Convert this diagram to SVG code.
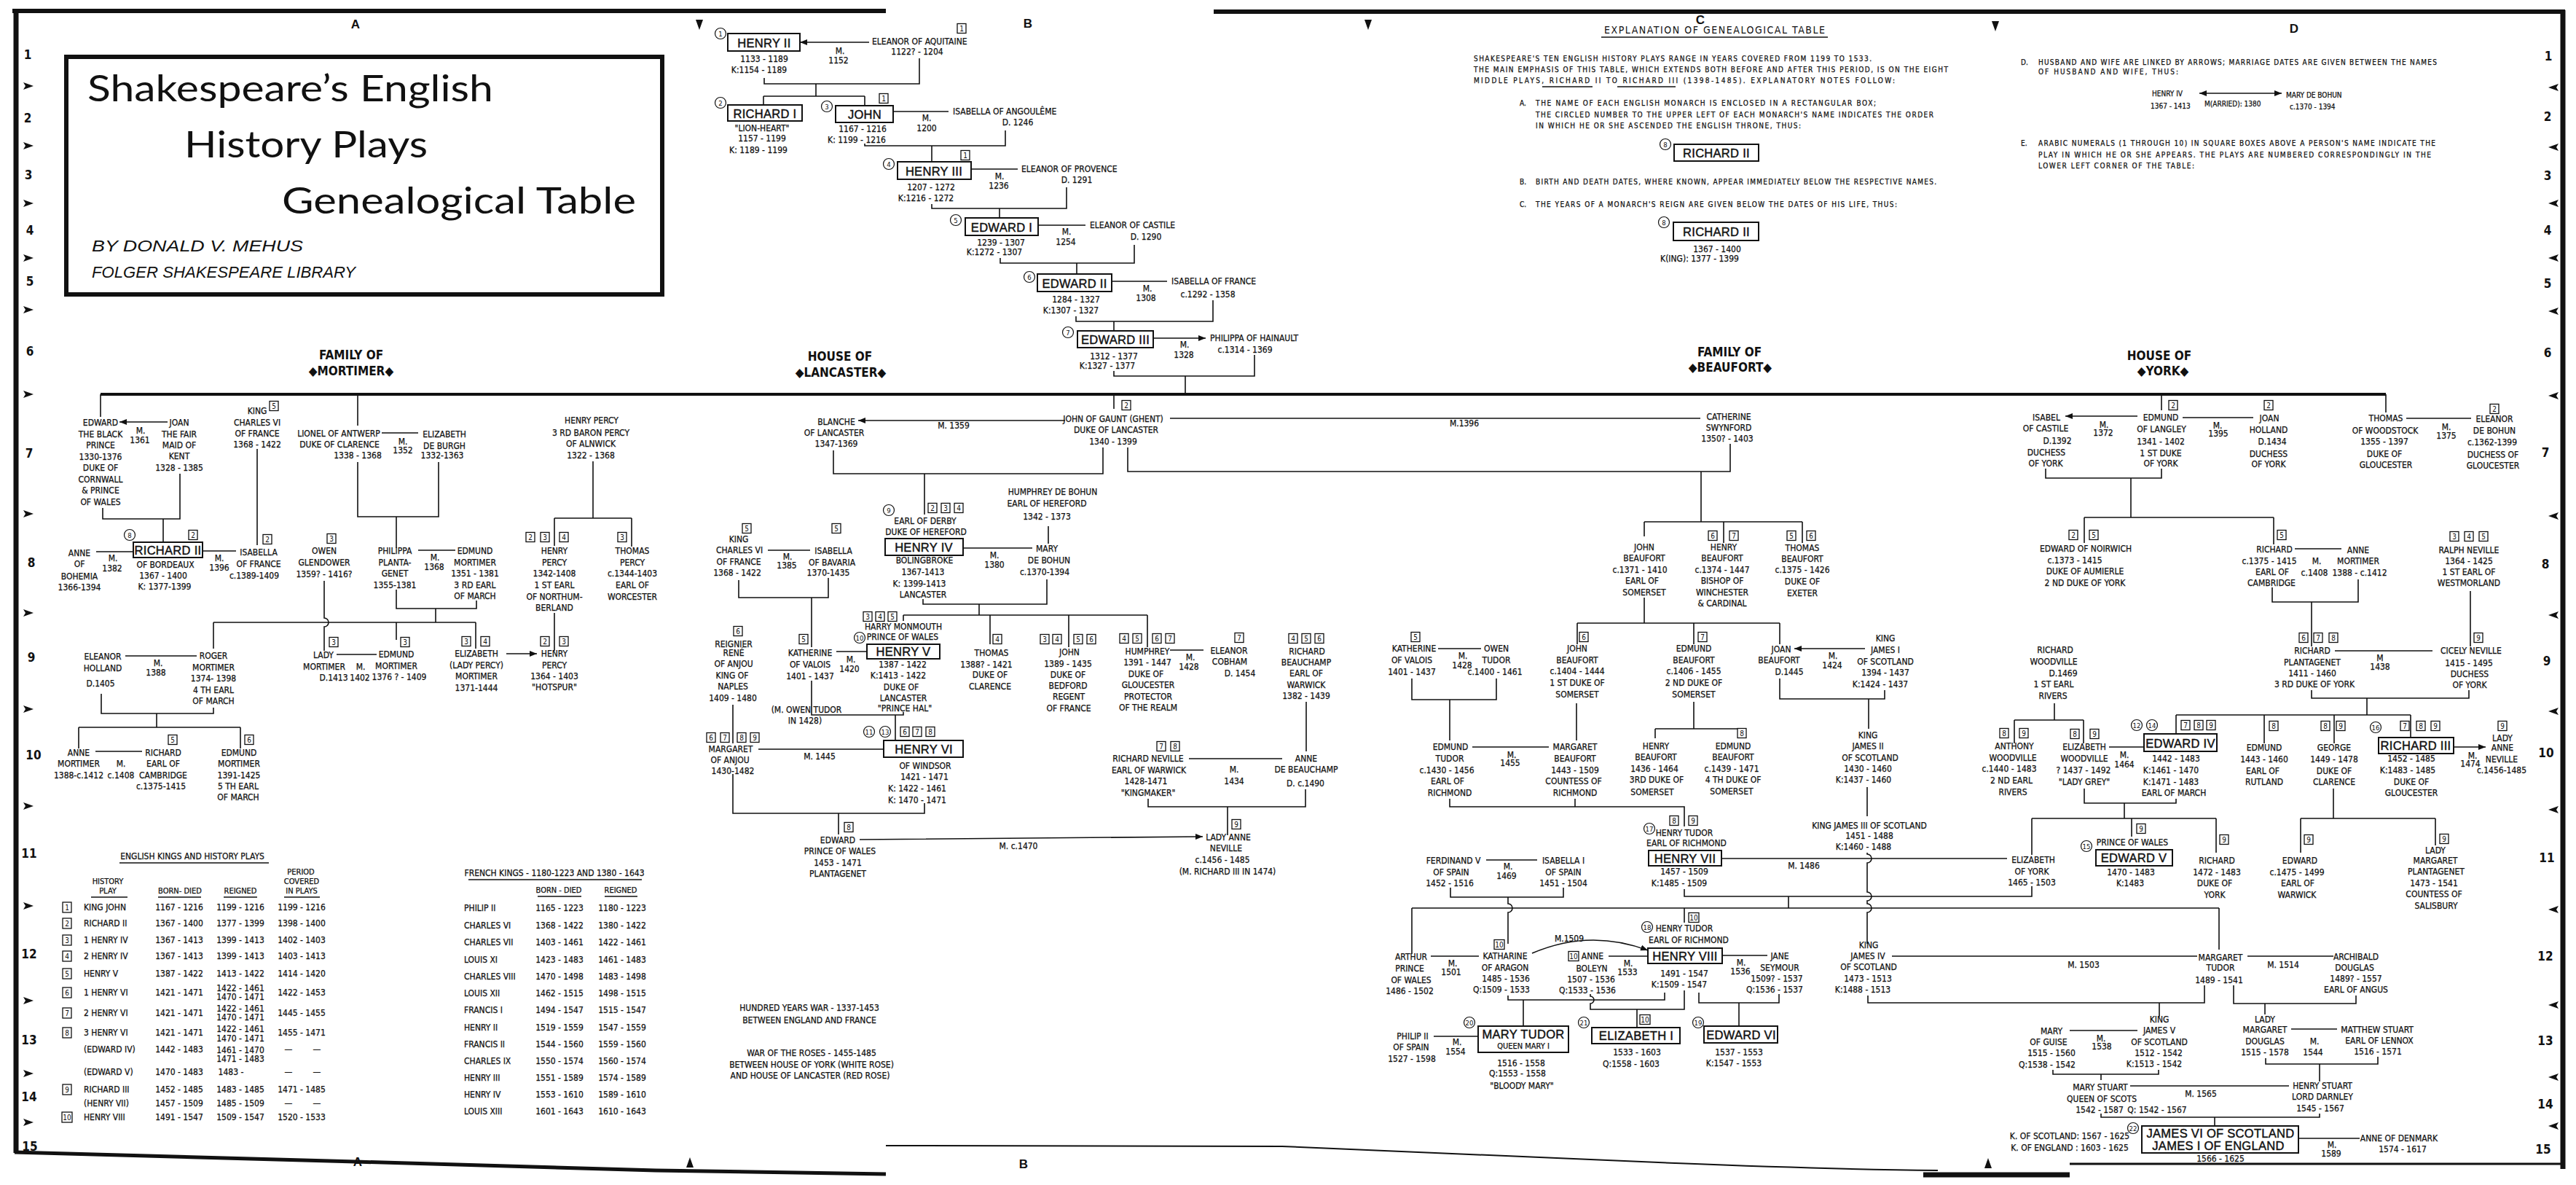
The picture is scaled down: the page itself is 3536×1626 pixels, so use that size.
<svg xmlns="http://www.w3.org/2000/svg" width="3536" height="1626" viewBox="0 0 3536 1626">
<defs>
<marker id="ah" viewBox="0 0 10 8" refX="10" refY="4" markerWidth="10" markerHeight="8" markerUnits="userSpaceOnUse" orient="auto-start-reverse"><path d="M0,0 L10,4 L0,8 z" fill="#111"/></marker>
</defs>
<style>
text{font-family:"Liberation Sans Narrow","DejaVu Sans Condensed","Liberation Sans",sans-serif;fill:#111}
.t{font-size:12px;text-anchor:middle;stroke:#111;stroke-width:0.25px}
.s{font-size:12px;text-anchor:start;stroke:#111;stroke-width:0.25px}
.sm{font-size:11px;text-anchor:middle;stroke:#111;stroke-width:0.25px}
.mt{font-family:"Liberation Sans",sans-serif;font-size:16.5px;text-anchor:middle;letter-spacing:0.3px;stroke:#111;stroke-width:0.45px}
.mb{fill:#fff;stroke:#111;stroke-width:2}
.pr{fill:#fff;stroke:#111;stroke-width:1.3}
.pt{font-size:10px;text-anchor:middle}
.cr{fill:#fff;stroke:#111;stroke-width:1.2}
.ct{font-size:9.5px;text-anchor:middle}
.l{fill:none;stroke:#111;stroke-width:1.6}
.mm{fill:none;stroke:#111;stroke-width:1.6;marker-start:url(#ah);marker-end:url(#ah)}
.main{fill:none;stroke:#111;stroke-width:4}
.hd{font-size:17px;font-weight:bold;text-anchor:middle}
.ex{font-size:10px;text-anchor:start;stroke:#111;stroke-width:0.25px}
.grid{font-family:"Liberation Sans",sans-serif;font-weight:bold;font-size:17px;text-anchor:middle}
.tt{font-family:Lato,"Open Sans",sans-serif;font-size:50px}
.by{font-family:"Liberation Sans Narrow","Liberation Sans",sans-serif;font-style:italic;font-size:22px}
.bd{fill:none;stroke:#111}
</style>
<rect width="3536" height="1626" fill="#fff"/>

<g id="frame">
<path class="bd" stroke-width="6" d="M17,15 H1216 M1666,16 H3521"/>
<path class="bd" stroke-width="7" d="M22,14 V1582 M3518,14 V1604"/>
<path class="bd" stroke-width="5" d="M20,1581 L488,1594 L900,1606 L1216,1611"/>
<path class="bd" stroke-width="2" d="M1216,1572 L1760,1573 C1900,1578 2100,1588 2300,1596 C2450,1602 2560,1605 2660,1606"/>
<path class="bd" stroke-width="7" d="M2640,1612 H2841"/>
<path class="bd" stroke-width="3" d="M2841,1597 H3518"/>
<text class="grid" x="488" y="39">A</text>
<text class="grid" x="1411" y="38">B</text>
<text class="grid" x="2334" y="33">C</text>
<text class="grid" x="3149" y="45">D</text>
<text class="grid" x="491" y="1600">A</text>
<text class="grid" x="1405" y="1603">B</text>
<polygon points="955,27 965,27 960,41" fill="#111"/>
<polygon points="1873,27 1883,27 1878,41" fill="#111"/>
<polygon points="2734,29 2744,29 2739,43" fill="#111"/>
<polygon points="942,1602 952,1602 947,1588" fill="#111"/>
<polygon points="2724,1603 2734,1603 2729,1589" fill="#111"/>
<g fill="#111">
<polygon points="32,113 46,118 32,123 35,118"/><polygon points="32,195 46,200 32,205 35,200"/><polygon points="32,274 46,279 32,284 35,279"/><polygon points="32,349 46,354 32,359 35,354"/><polygon points="32,420 46,425 32,430 35,425"/><polygon points="32,536 46,541 32,546 35,541"/><polygon points="32,700 46,705 32,710 35,705"/><polygon points="32,836 46,841 32,846 35,841"/><polygon points="32,968 46,973 32,978 35,973"/><polygon points="32,1101 46,1106 32,1111 35,1106"/><polygon points="32,1238 46,1243 32,1248 35,1243"/><polygon points="32,1368 46,1373 32,1378 35,1373"/><polygon points="32,1468 46,1473 32,1478 35,1473"/><polygon points="32,1535 46,1540 32,1545 35,1540"/>
<polygon points="3512,115 3498,120 3512,125 3509,120"/><polygon points="3512,197 3498,202 3512,207 3509,202"/><polygon points="3512,274 3498,279 3512,284 3509,279"/><polygon points="3512,349 3498,354 3512,359 3509,354"/><polygon points="3512,422 3498,427 3512,432 3509,427"/><polygon points="3512,538 3498,543 3512,548 3509,543"/><polygon points="3512,703 3498,708 3512,713 3509,708"/><polygon points="3512,839 3498,844 3512,849 3509,844"/><polygon points="3512,971 3498,976 3512,981 3509,976"/><polygon points="3512,1106 3498,1111 3512,1116 3509,1111"/><polygon points="3512,1243 3498,1248 3512,1253 3509,1248"/><polygon points="3512,1374 3498,1379 3512,1384 3509,1379"/><polygon points="3512,1473 3498,1478 3512,1483 3509,1478"/><polygon points="3512,1540 3498,1545 3512,1550 3509,1545"/>
</g>
<g class="grid">
<text x="38" y="81">1</text><text x="38" y="168">2</text><text x="39" y="246">3</text><text x="41" y="322">4</text><text x="41" y="392">5</text><text x="41" y="488">6</text><text x="40" y="628">7</text><text x="43" y="778">8</text><text x="43" y="908">9</text><text x="46" y="1042">10</text><text x="40" y="1177">11</text><text x="40" y="1315">12</text><text x="40" y="1433">13</text><text x="40" y="1511">14</text><text x="41" y="1579">15</text>
<text x="3498" y="83">1</text><text x="3497" y="166">2</text><text x="3497" y="247">3</text><text x="3497" y="322">4</text><text x="3497" y="395">5</text><text x="3497" y="490">6</text><text x="3494" y="627">7</text><text x="3494" y="780">8</text><text x="3496" y="913">9</text><text x="3495" y="1039">10</text><text x="3496" y="1183">11</text><text x="3494" y="1318">12</text><text x="3494" y="1434">13</text><text x="3494" y="1521">14</text><text x="3491" y="1583">15</text>
</g>
</g>

<g id="title">
<rect x="91" y="78" width="818" height="326" fill="none" stroke="#111" stroke-width="6"/>
<text class="tt" x="120" y="139" textLength="557" lengthAdjust="spacingAndGlyphs">Shakespeare’s English</text>
<text class="tt" x="253" y="216" textLength="334" lengthAdjust="spacingAndGlyphs">History Plays</text>
<text class="tt" x="387" y="293" textLength="486" lengthAdjust="spacingAndGlyphs">Genealogical Table</text>
<text class="by" x="126" y="345" textLength="290" lengthAdjust="spacingAndGlyphs">BY DONALD V. MEHUS</text>
<text class="by" x="126" y="381" textLength="362" lengthAdjust="spacingAndGlyphs">FOLGER SHAKESPEARE LIBRARY</text>
</g>

<g id="headings">
<text class="hd" x="482" y="493">FAMILY OF</text><text class="hd" x="482" y="515">◆MORTIMER◆</text>
<text class="hd" x="1153" y="495">HOUSE OF</text><text class="hd" x="1154" y="517">◆LANCASTER◆</text>
<text class="hd" x="2374" y="489">FAMILY OF</text><text class="hd" x="2375" y="510">◆BEAUFORT◆</text>
<text class="hd" x="2964" y="494">HOUSE OF</text><text class="hd" x="2969" y="515">◆YORK◆</text>
</g>

<g id="explanation">
<text x="2202" y="46" font-size="14" textLength="303" lengthAdjust="spacing">EXPLANATION OF GENEALOGICAL TABLE</text>
<path class="l" stroke-width="2" d="M2198,51H2509"/>
<text class="ex" x="2023" y="84" textLength="546" lengthAdjust="spacing">SHAKESPEARE'S TEN ENGLISH HISTORY PLAYS RANGE IN YEARS COVERED FROM 1199 TO 1533.</text>
<text class="ex" x="2023" y="99" textLength="651" lengthAdjust="spacing">THE MAIN EMPHASIS OF THIS TABLE, WHICH EXTENDS BOTH BEFORE AND AFTER THIS PERIOD, IS ON THE EIGHT</text>
<text class="ex" x="2023" y="114" textLength="578" lengthAdjust="spacing">MIDDLE PLAYS, RICHARD II TO RICHARD III (1398-1485). EXPLANATORY NOTES FOLLOW:</text>
<path class="l" stroke-width="1.2" d="M2117,119H2186 M2220,119H2300"/>
<text class="ex" x="2086" y="145">A.</text>
<text class="ex" x="2108" y="145" textLength="467" lengthAdjust="spacing">THE NAME OF EACH ENGLISH MONARCH IS ENCLOSED IN A RECTANGULAR BOX;</text>
<text class="ex" x="2108" y="161" textLength="546" lengthAdjust="spacing">THE CIRCLED NUMBER TO THE UPPER LEFT OF EACH MONARCH'S NAME INDICATES THE ORDER</text>
<text class="ex" x="2108" y="176" textLength="364" lengthAdjust="spacing">IN WHICH HE OR SHE ASCENDED THE ENGLISH THRONE, THUS:</text>
<circle class="cr" cx="2286" cy="198" r="7.5"/><text class="ct" x="2286" y="201.5">8</text>
<rect class="mb" x="2298" y="198" width="116" height="23"/><text class="mt" x="2356" y="216">RICHARD II</text>
<text class="ex" x="2086" y="253">B.</text>
<text class="ex" x="2108" y="253" textLength="550" lengthAdjust="spacing">BIRTH AND DEATH DATES, WHERE KNOWN, APPEAR IMMEDIATELY BELOW THE RESPECTIVE NAMES.</text>
<text class="ex" x="2086" y="284">C.</text>
<text class="ex" x="2108" y="284" textLength="496" lengthAdjust="spacing">THE YEARS OF A MONARCH'S REIGN ARE GIVEN BELOW THE DATES OF HIS LIFE, THUS:</text>
<circle class="cr" cx="2284" cy="305" r="7.5"/><text class="ct" x="2284" y="308.5">8</text>
<rect class="mb" x="2297" y="305" width="117" height="25"/><text class="mt" x="2356" y="324">RICHARD II</text>
<text class="t" x="2357" y="346">1367 - 1400</text>
<text class="t" x="2333" y="359">K(ING): 1377 - 1399</text>
<text class="ex" x="2774" y="89">D.</text>
<text class="ex" x="2798" y="89" textLength="547" lengthAdjust="spacing">HUSBAND AND WIFE ARE LINKED BY ARROWS; MARRIAGE DATES ARE GIVEN BETWEEN THE NAMES</text>
<text class="ex" x="2798" y="102" textLength="192" lengthAdjust="spacing">OF HUSBAND AND WIFE, THUS:</text>
<text class="ex" x="2954" y="132">HENRY IV</text>
<text class="ex" x="2952" y="149">1367 - 1413</text>
<path class="mm" d="M3019,128H3132"/>
<text class="ex" x="3026" y="146">M(ARRIED): 1380</text>
<text class="ex" x="3138" y="134">MARY DE BOHUN</text>
<text class="ex" x="3143" y="150">c.1370 - 1394</text>
<text class="ex" x="2774" y="200">E.</text>
<text class="ex" x="2798" y="200" textLength="545" lengthAdjust="spacing">ARABIC NUMERALS (1 THROUGH 10) IN SQUARE BOXES ABOVE A PERSON'S NAME INDICATE THE</text>
<text class="ex" x="2798" y="216" textLength="539" lengthAdjust="spacing">PLAY IN WHICH HE OR SHE APPEARS. THE PLAYS ARE NUMBERED CORRESPONDINGLY IN THE</text>
<text class="ex" x="2798" y="231" textLength="214" lengthAdjust="spacing">LOWER LEFT CORNER OF THE TABLE:</text>
</g>

<g id="connectors">
<path class="main" d="M138,541H3275"/>
<path class="l" d="M1049,107V115H1262V80 M1120,115V132 M1048,132H1187 M1048,132V144 M1187,132V145 M1187,197V200H1380V179 M1279,200V222 M1279,280V286H1464V257 M1372,286V299 M1373,354V361H1557V336 M1478,361V376 M1477,434V441H1665V412 M1529,441V454 M1529,509V516H1722V487 M1627,516V541"/>
<path class="l" d="M138,541V572 M491,541V584 M1529,541V561 M2967,541V563 M3275,541V566"/>
<path class="l" d="M141,697V712H247V650 M224,712V744 M353,616V748 M491,634V709H602V634 M544,709V752 M544,809V835H654V824 M598,835V854 M293,854H653 M293,854V890 M544,854V878 M653,854V890 M139,952V979H293V971 M215,979V998 M108,998H330 M108,998V1027 M330,998V1027 M814,633V711 M761,711H867 M761,711V749 M867,711V750 M761,841V893 M445,797V848a6,6 0 0 1 0,12V893"/>
<path class="l" d="M1144,618V650H1514V614 M1269,650V706 M1548,614V647H2375V609 M2335,647V716 M2257,716H2474 M2257,716V736 M2366,716V745 M2474,716V745 M1439,722V746 M1267,822V829H1437V795 M1344,829V844 M1240,844H1575 M1240,844V852 M1359,844V884 M1467,844V888 M1575,844V888 M1014,796V820H1137V793 M1114,820V888 M1006,967V1020 M1114,934V981H1240V977 M1229,981V1016 M1793,963V1031 M1576,1096V1107H1792V1083 M1685,1107V1146 M1006,1062V1116H1269V1102 M1151,1116V1145"/>
<path class="l" d="M2257,820V855 M2165,855H2443 M2165,855V884 M2325,855V884 M2443,855V884 M2443,931V959H2587V947 M2565,959V1000 M2563,1080V1120 M1938,931V960H2054V931 M1990,960V1016 M2164,965V1016 M2325,963V1000 M2272,1000H2386 M2272,1000V1013 M2386,1000V1013 M1990,1096V1107H2312V1134 M2162,1096V1107 M2563,1170V1172a6,6 0 0 1 0,12V1224a6,6 0 0 1 0,12V1240a6,6 0 0 1 0,12V1295 M2312,1220V1230H2789V1216 M2455,1230V1246 M1938,1246H3046 M1938,1246V1309 M2312,1246V1266 M3046,1246V1303 M1991,1218V1231H2146V1218 M2070,1231V1240a6,6 0 0 1 0,12V1295 M2070,1366V1372H2285V1362 M2091,1372V1408 M2183,1364V1367a5,5 0 0 1 0,10V1385H2312V1359 M2247,1385V1410 M2332,1362V1376H2442V1364 M2387,1376V1408 M2564,1366V1376H3026V1352 M2964,1376V1395 M3066,1352V1377H3234V1366 M3109,1377V1392 M2818,1468V1474H2963V1468 M2884,1474V1482 M3110,1452V1460H3264V1450 M3184,1460V1484 M2884,1528V1533H3184V1528 M3040,1533V1545"/>
<path class="l" d="M2808,643V656H2967V643 M2925,656V710 M2861,710H3121 M2861,710V745 M3121,710V747 M3119,806V826H3237V795 M3173,826V887 M3391,811V887 M3173,947V958H3389V947 M3249,958V981 M2987,981H3309 M2987,981V1007 M3108,981V1020 M3204,981V1020 M3309,981V1012 M2820,965V988 M2765,988H2860 M2765,988V1020 M2860,988V1020 M2861,1082V1102H2987V1096 M2916,1102V1123 M2789,1123H3042 M2789,1123V1173 M2926,1123V1148 M3042,1123V1170 M3203,1082V1123 M3158,1123H3343 M3158,1123V1170 M3343,1123V1160"/>
<path class="mm" d="M1098,58H1193 M1226,153H1302 M1333,232H1397 M1425,309H1490 M1526,386H1602 M1583,464H1655"/>
<path class="mm" d="M164,579H230 M132,757H183 M278,756H324 M524,594H574 M574,755H625 M172,900H270 M131,1031H195 M462,898H517 M695,897H737"/>
<path class="mm" d="M1178,577H1462 M1606,574H2334 M1322,752H1417 M1148,894H1190 M1054,755H1112 M1041,1028H1213 M1606,892H1652 M1632,1041H1760 M1180,1152L1651,1148"/>
<path class="mm" d="M2463,890H2560 M1974,890H2033 M2021,1025H2126 M2363,1178H2755 M2040,1180H2110 M1964,1312H2030 M2208,1312H2262 M2364,1311H2426 M2597,1312H3016 M3085,1312H3203 M1968,1422H2029 M2841,1414H2934 M3145,1412H3208 M2924,1490H3142 M3155,1562H3239 M2103,1308Q2182,1274 2262,1304"/>
<path class="mm" d="M2835,571H2934 M2996,573H3093 M3303,574H3392 M3150,753H3214 M3205,893H3339 M2895,1025H2943 M3368,1025H3412"/>
<g id="marriage-labels" class="t">
<text x="1153" y="74">M.</text><text x="1151" y="87">1152</text>
<text x="1272" y="166">M.</text><text x="1272" y="180">1200</text>
<text x="1372" y="246">M.</text><text x="1371" y="259">1236</text>
<text x="1464" y="322">M.</text><text x="1463" y="336">1254</text>
<text x="1575" y="400">M.</text><text x="1573" y="413">1308</text>
<text x="1626" y="477">M.</text><text x="1625" y="491">1328</text>
<text x="193" y="595">M.</text><text x="192" y="608">1361</text>
<text x="155" y="770">M.</text><text x="154" y="784">1382</text>
<text x="301" y="770">M.</text><text x="301" y="783">1396</text>
<text x="553" y="610">M.</text><text x="553" y="622">1352</text>
<text x="597" y="769">M.</text><text x="596" y="782">1368</text>
<text x="217" y="914">M.</text><text x="214" y="927">1388</text>
<text x="166" y="1052">M.</text><text x="166" y="1068">c.1408</text>
<text x="495" y="919">M.</text><text x="494" y="934">1402</text>
<text x="1309" y="588">M. 1359</text>
<text x="2010" y="585">M.1396</text>
<text x="1365" y="766">M.</text><text x="1365" y="779">1380</text>
<text x="1081" y="768">M.</text><text x="1080" y="780">1385</text>
<text x="1168" y="909">M.</text><text x="1166" y="922">1420</text>
<text x="1125" y="1042">M. 1445</text>
<text x="1634" y="906">M.</text><text x="1632" y="919">1428</text>
<text x="1694" y="1060">M.</text><text x="1694" y="1076">1434</text>
<text x="1398" y="1165">M. c.1470</text>
<text x="2516" y="904">M.</text><text x="2515" y="917">1424</text>
<text x="2008" y="904">M.</text><text x="2007" y="917">1428</text>
<text x="2075" y="1040">M.</text><text x="2073" y="1051">1455</text>
<text x="2476" y="1192">M. 1486</text>
<text x="2070" y="1193">M.</text><text x="2068" y="1206">1469</text>
<text x="1994" y="1326">M.</text><text x="1992" y="1338">1501</text>
<text x="2154" y="1292">M.1509</text>
<text x="2235" y="1326">M.</text><text x="2234" y="1338">1533</text>
<text x="2390" y="1325">M.</text><text x="2389" y="1337">1536</text>
<text x="2860" y="1328">M. 1503</text>
<text x="3134" y="1328">M. 1514</text>
<text x="2000" y="1434">M.</text><text x="1998" y="1447">1554</text>
<text x="2884" y="1429">M.</text><text x="2885" y="1440">1538</text>
<text x="3177" y="1433">M.</text><text x="3175" y="1448">1544</text>
<text x="3021" y="1505">M. 1565</text>
<text x="3201" y="1575">M.</text><text x="3200" y="1587">1589</text>
<text x="2888" y="587">M.</text><text x="2887" y="598">1372</text>
<text x="3044" y="588">M.</text><text x="3045" y="599">1395</text>
<text x="3358" y="590">M.</text><text x="3358" y="602">1375</text>
<text x="3180" y="774">M.</text><text x="3177" y="790">c.1408</text>
<text x="3267" y="907">M</text><text x="3267" y="919">1438</text>
<text x="2916" y="1040">M.</text><text x="2916" y="1053">1464</text>
<text x="3394" y="1041">M.</text><text x="3391" y="1052">1474</text>
</g>
</g>

<g id="henry2"><circle class="cr" cx="989" cy="46" r="7.5"/><text class="ct" x="989" y="49.5">1</text><rect class="mb" x="999" y="46" width="99" height="24"/><text class="mt" x="1049" y="64.5">HENRY II</text><text class="t"><tspan x="1049" y="85">1133 - 1189</tspan><tspan x="1042" y="100">K:1154 - 1189</tspan></text></g>
<g id="eleanor_aquitaine"><rect class="pr" x="1314" y="32.5" width="12" height="13"/><text class="pt" x="1320" y="42.5">1</text><text class="s" x="1197" y="61">ELEANOR OF AQUITAINE</text><text class="t" x="1259" y="75">1122? - 1204</text></g>
<g id="richard1"><circle class="cr" cx="989" cy="141" r="7.5"/><text class="ct" x="989" y="144.5">2</text><rect class="mb" x="999" y="144" width="102" height="22"/><text class="mt" x="1050" y="161.5">RICHARD I</text><text class="t"><tspan x="1046" y="180">"LION-HEART"</tspan><tspan x="1046" y="194">1157 - 1199</tspan><tspan x="1041" y="210">K: 1189 - 1199</tspan></text></g>
<g id="john"><circle class="cr" cx="1135" cy="146" r="7.5"/><text class="ct" x="1135" y="149.5">3</text><rect class="mb" x="1147" y="145" width="79" height="23"/><text class="mt" x="1187" y="163">JOHN</text><rect class="pr" x="1207" y="128.5" width="12" height="13"/><text class="pt" x="1213" y="138.5">1</text><text class="t"><tspan x="1184" y="181">1167 - 1216</tspan><tspan x="1176" y="196">K: 1199 - 1216</tspan></text></g>
<g id="isabella_angouleme"><text class="s" x="1308" y="157">ISABELLA OF ANGOULÊME</text><text class="t" x="1397" y="172">D. 1246</text></g>
<g id="henry3"><circle class="cr" cx="1220" cy="225" r="7.5"/><text class="ct" x="1220" y="228.5">4</text><rect class="mb" x="1232" y="222" width="101" height="24"/><text class="mt" x="1282" y="240.5">HENRY III</text><rect class="pr" x="1319" y="206.5" width="12" height="13"/><text class="pt" x="1325" y="216.5">1</text><text class="t"><tspan x="1278" y="261">1207 - 1272</tspan><tspan x="1271" y="276">K:1216 - 1272</tspan></text></g>
<g id="eleanor_provence"><text class="s" x="1402" y="236">ELEANOR OF PROVENCE</text><text class="t" x="1478" y="251">D. 1291</text></g>
<g id="edward1"><circle class="cr" cx="1312" cy="302" r="7.5"/><text class="ct" x="1312" y="305.5">5</text><rect class="mb" x="1325" y="299" width="100" height="24"/><text class="mt" x="1375" y="317.5">EDWARD I</text><text class="t"><tspan x="1374" y="337">1239 - 1307</tspan><tspan x="1365" y="350">K:1272 - 1307</tspan></text></g>
<g id="eleanor_castile"><text class="s" x="1496" y="313">ELEANOR OF CASTILE</text><text class="t" x="1573" y="329">D. 1290</text></g>
<g id="edward2"><circle class="cr" cx="1413" cy="380" r="7.5"/><text class="ct" x="1413" y="383.5">6</text><rect class="mb" x="1424" y="376" width="102" height="24"/><text class="mt" x="1475" y="394.5">EDWARD II</text><text class="t"><tspan x="1477" y="415">1284 - 1327</tspan><tspan x="1470" y="430">K:1307 - 1327</tspan></text></g>
<g id="isabella_france"><text class="s" x="1608" y="390">ISABELLA OF FRANCE</text><text class="t" x="1658" y="408">c.1292 - 1358</text></g>
<g id="edward3"><circle class="cr" cx="1466" cy="456" r="7.5"/><text class="ct" x="1466" y="459.5">7</text><rect class="mb" x="1479" y="454" width="104" height="23"/><text class="mt" x="1531" y="472">EDWARD III</text><text class="t"><tspan x="1529" y="493">1312 - 1377</tspan><tspan x="1520" y="506">K:1327 - 1377</tspan></text></g>
<g id="philippa_hainault"><text class="s" x="1661" y="468">PHILIPPA OF HAINAULT</text><text class="t" x="1709" y="484">c.1314 - 1369</text></g>

<g id="edward_black_prince"><text class="t"><tspan x="138" y="584">EDWARD</tspan><tspan x="138" y="600">THE BLACK</tspan><tspan x="138" y="615">PRINCE</tspan><tspan x="138" y="631">1330-1376</tspan><tspan x="138" y="646">DUKE OF</tspan><tspan x="138" y="662">CORNWALL</tspan><tspan x="138" y="677">&amp; PRINCE</tspan><tspan x="138" y="693">OF WALES</tspan></text></g>
<g id="joan_kent"><text class="t"><tspan x="246" y="584">JOAN</tspan><tspan x="246" y="600">THE FAIR</tspan><tspan x="246" y="615">MAID OF</tspan><tspan x="246" y="630">KENT</tspan><tspan x="246" y="646">1328 - 1385</tspan></text></g>
<g id="richard2"><circle class="cr" cx="178" cy="734" r="7.5"/><text class="ct" x="178" y="737.5">8</text><rect class="pr" x="259" y="727.5" width="12" height="13"/><text class="pt" x="265" y="737.5">2</text><rect class="mb" x="183" y="744" width="95" height="21"/><text class="mt" x="230.5" y="760.5">RICHARD II</text><text class="t"><tspan x="227" y="779">OF BORDEAUX</tspan><tspan x="224" y="794">1367 - 1400</tspan><tspan x="226" y="809">K: 1377-1399</tspan></text></g>
<g id="anne_bohemia"><text class="t"><tspan x="109" y="763">ANNE</tspan><tspan x="109" y="778">OF</tspan><tspan x="109" y="795">BOHEMIA</tspan><tspan x="109" y="810">1366-1394</tspan></text></g>
<g id="isabella_valois_m"><rect class="pr" x="361" y="733.5" width="12" height="13"/><text class="pt" x="367" y="743.5">2</text><text class="t"><tspan x="355" y="762">ISABELLA</tspan><tspan x="355" y="778">OF FRANCE</tspan><tspan x="349" y="794">c.1389-1409</tspan></text></g>
<g id="charles6_m"><rect class="pr" x="370" y="550.5" width="12" height="13"/><text class="pt" x="376" y="560.5">5</text><text class="t"><tspan x="353" y="568">KING</tspan><tspan x="353" y="584">CHARLES VI</tspan><tspan x="353" y="599">OF FRANCE</tspan><tspan x="353" y="614">1368 - 1422</tspan></text></g>
<g id="lionel"><text class="t"><tspan x="465" y="599">LIONEL OF ANTWERP</tspan><tspan x="466" y="614">DUKE OF CLARENCE</tspan><tspan x="491" y="629">1338 - 1368</tspan></text></g>
<g id="elizabeth_burgh"><text class="t"><tspan x="610" y="600">ELIZABETH</tspan><tspan x="610" y="616">DE BURGH</tspan><tspan x="607" y="629">1332-1363</tspan></text></g>
<g id="philippa_plantagenet"><text class="t"><tspan x="542" y="760">PHILIPPA</tspan><tspan x="542" y="776">PLANTA-</tspan><tspan x="542" y="791">GENET</tspan><tspan x="542" y="807">1355-1381</tspan></text></g>
<g id="edmund_mortimer_3"><text class="t"><tspan x="652" y="760">EDMUND</tspan><tspan x="652" y="776">MORTIMER</tspan><tspan x="652" y="791">1351 - 1381</tspan><tspan x="652" y="807">3 RD EARL</tspan><tspan x="652" y="822">OF MARCH</tspan></text></g>
<g id="owen_glendower"><rect class="pr" x="449" y="732.5" width="12" height="13"/><text class="pt" x="455" y="742.5">3</text><text class="t"><tspan x="445" y="760">OWEN</tspan><tspan x="445" y="776">GLENDOWER</tspan><tspan x="445" y="792">1359? - 1416?</tspan></text></g>
<g id="lady_mortimer"><rect class="pr" x="452" y="874.5" width="12" height="13"/><text class="pt" x="458" y="884.5">3</text><text class="t"><tspan x="444" y="903">LADY</tspan><tspan x="445" y="919">MORTIMER</tspan><tspan x="458" y="934">D.1413</tspan></text></g>
<g id="edmund_mortimer_1376"><rect class="pr" x="550" y="874.5" width="12" height="13"/><text class="pt" x="556" y="884.5">3</text><text class="t"><tspan x="544" y="902">EDMUND</tspan><tspan x="544" y="918">MORTIMER</tspan><tspan x="548" y="933">1376 ? - 1409</tspan></text></g>
<g id="elizabeth_mortimer"><rect class="pr" x="634" y="873.5" width="12" height="13"/><text class="pt" x="640" y="883.5">3</text><rect class="pr" x="660" y="873.5" width="12" height="13"/><text class="pt" x="666" y="883.5">4</text><text class="t"><tspan x="654" y="901">ELIZABETH</tspan><tspan x="654" y="917">(LADY PERCY)</tspan><tspan x="654" y="932">MORTIMER</tspan><tspan x="654" y="948">1371-1444</tspan></text></g>
<g id="hotspur"><rect class="pr" x="742" y="873.5" width="12" height="13"/><text class="pt" x="748" y="883.5">2</text><rect class="pr" x="768" y="873.5" width="12" height="13"/><text class="pt" x="774" y="883.5">3</text><text class="t"><tspan x="761" y="901">HENRY</tspan><tspan x="761" y="917">PERCY</tspan><tspan x="761" y="932">1364 - 1403</tspan><tspan x="761" y="947">"HOTSPUR"</tspan></text></g>
<g id="henry_percy_baron"><text class="t"><tspan x="812" y="581">HENRY PERCY</tspan><tspan x="811" y="598">3 RD BARON PERCY</tspan><tspan x="811" y="613">OF ALNWICK</tspan><tspan x="811" y="629">1322 - 1368</tspan></text></g>
<g id="henry_percy_earl"><rect class="pr" x="722" y="730.5" width="12" height="13"/><text class="pt" x="728" y="740.5">2</text><rect class="pr" x="742" y="730.5" width="12" height="13"/><text class="pt" x="748" y="740.5">3</text><rect class="pr" x="768" y="730.5" width="12" height="13"/><text class="pt" x="774" y="740.5">4</text><text class="t"><tspan x="761" y="760">HENRY</tspan><tspan x="761" y="776">PERCY</tspan><tspan x="761" y="791">1342-1408</tspan><tspan x="761" y="807">1 ST EARL</tspan><tspan x="761" y="823">OF NORTHUM-</tspan><tspan x="761" y="838">BERLAND</tspan></text></g>
<g id="thomas_percy"><rect class="pr" x="848" y="730.5" width="12" height="13"/><text class="pt" x="854" y="740.5">3</text><text class="t"><tspan x="868" y="760">THOMAS</tspan><tspan x="868" y="776">PERCY</tspan><tspan x="868" y="791">c.1344-1403</tspan><tspan x="868" y="807">EARL OF</tspan><tspan x="868" y="823">WORCESTER</tspan></text></g>
<g id="roger_mortimer"><text class="t"><tspan x="293" y="904">ROGER</tspan><tspan x="293" y="920">MORTIMER</tspan><tspan x="293" y="935">1374- 1398</tspan><tspan x="293" y="951">4 TH EARL</tspan><tspan x="293" y="966">OF MARCH</tspan></text></g>
<g id="eleanor_holland"><text class="t"><tspan x="141" y="905">ELEANOR</tspan><tspan x="141" y="921">HOLLAND</tspan><tspan x="138" y="942">D.1405</tspan></text></g>
<g id="anne_mortimer"><text class="t"><tspan x="108" y="1037">ANNE</tspan><tspan x="108" y="1052">MORTIMER</tspan><tspan x="108" y="1068">1388-c.1412</tspan></text></g>
<g id="richard_cambridge_m"><rect class="pr" x="231" y="1008.5" width="12" height="13"/><text class="pt" x="237" y="1018.5">5</text><text class="t"><tspan x="224" y="1037">RICHARD</tspan><tspan x="224" y="1052">EARL OF</tspan><tspan x="224" y="1068">CAMBRIDGE</tspan><tspan x="221" y="1083">c.1375-1415</tspan></text></g>
<g id="edmund_mortimer_5"><rect class="pr" x="336" y="1008.5" width="12" height="13"/><text class="pt" x="342" y="1018.5">6</text><text class="t"><tspan x="328" y="1037">EDMUND</tspan><tspan x="328" y="1052">MORTIMER</tspan><tspan x="328" y="1068">1391-1425</tspan><tspan x="327" y="1083">5 TH EARL</tspan><tspan x="327" y="1098">OF MARCH</tspan></text></g>

<g id="blanche"><text class="t"><tspan x="1148" y="583">BLANCHE</tspan><tspan x="1145" y="598">OF LANCASTER</tspan><tspan x="1148" y="613">1347-1369</tspan></text></g>
<g id="john_of_gaunt"><rect class="pr" x="1540" y="549.5" width="12" height="13"/><text class="pt" x="1546" y="559.5">2</text><text class="t"><tspan x="1528" y="579">JOHN OF GAUNT (GHENT)</tspan><tspan x="1532" y="594">DUKE OF LANCASTER</tspan><tspan x="1528" y="610">1340 - 1399</tspan></text></g>
<g id="catherine_swynford"><text class="t"><tspan x="2373" y="576">CATHERINE</tspan><tspan x="2373" y="591">SWYNFORD</tspan><tspan x="2371" y="606">1350? - 1403</tspan></text></g>
<g id="henry4"><circle class="cr" cx="1220" cy="700" r="7.5"/><text class="ct" x="1220" y="703.5">9</text><rect class="pr" x="1274" y="690.5" width="12" height="13"/><text class="pt" x="1280" y="700.5">2</text><rect class="pr" x="1292" y="690.5" width="12" height="13"/><text class="pt" x="1298" y="700.5">3</text><rect class="pr" x="1310" y="690.5" width="12" height="13"/><text class="pt" x="1316" y="700.5">4</text><text class="t"><tspan x="1270" y="719">EARL OF DERBY</tspan><tspan x="1271" y="734">DUKE OF HEREFORD</tspan></text><rect class="mb" x="1215" y="739" width="107" height="23"/><text class="mt" x="1268" y="756.5">HENRY IV</text><text class="t"><tspan x="1269" y="773">BOLINGBROKE</tspan><tspan x="1267" y="789">1367-1413</tspan><tspan x="1262" y="805">K: 1399-1413</tspan><tspan x="1267" y="820">LANCASTER</tspan></text></g>
<g id="humphrey_de_bohun"><text class="t"><tspan x="1445" y="679">HUMPHREY DE BOHUN</tspan><tspan x="1437" y="695">EARL OF HEREFORD</tspan><tspan x="1437" y="713">1342 - 1373</tspan></text></g>
<g id="mary_de_bohun"><text class="t"><tspan x="1437" y="757">MARY</tspan><tspan x="1440" y="773">DE BOHUN</tspan><tspan x="1434" y="789">c.1370-1394</tspan></text></g>
<g id="charles6_l"><rect class="pr" x="1019" y="718.5" width="12" height="13"/><text class="pt" x="1025" y="728.5">5</text><text class="t"><tspan x="1014" y="744">KING</tspan><tspan x="1015" y="759">CHARLES VI</tspan><tspan x="1014" y="775">OF FRANCE</tspan><tspan x="1012" y="790">1368 - 1422</tspan></text></g>
<g id="isabella_bavaria"><rect class="pr" x="1142" y="718.5" width="12" height="13"/><text class="pt" x="1148" y="728.5">5</text><text class="t"><tspan x="1144" y="760">ISABELLA</tspan><tspan x="1142" y="776">OF BAVARIA</tspan><tspan x="1137" y="790">1370-1435</tspan></text></g>
<g id="henry5"><rect class="pr" x="1185" y="839.5" width="12" height="13"/><text class="pt" x="1191" y="849.5">3</text><rect class="pr" x="1202" y="839.5" width="12" height="13"/><text class="pt" x="1208" y="849.5">4</text><rect class="pr" x="1219" y="839.5" width="12" height="13"/><text class="pt" x="1225" y="849.5">5</text><text class="t"><tspan x="1240" y="864">HARRY MONMOUTH</tspan><tspan x="1239" y="878">PRINCE OF WALES</tspan></text><circle class="cr" cx="1180" cy="875" r="7.5"/><text class="ct" x="1180" y="878.5">10</text><rect class="mb" x="1190" y="884" width="100" height="20"/><text class="mt" x="1240" y="900">HENRY V</text><text class="t"><tspan x="1239" y="916">1387 - 1422</tspan><tspan x="1233" y="931">K:1413 - 1422</tspan><tspan x="1237" y="947">DUKE OF</tspan><tspan x="1240" y="962">LANCASTER</tspan><tspan x="1242" y="976">"PRINCE HAL"</tspan></text></g>
<g id="katherine_valois"><rect class="pr" x="1097" y="870.5" width="12" height="13"/><text class="pt" x="1103" y="880.5">5</text><text class="t"><tspan x="1112" y="900">KATHERINE</tspan><tspan x="1112" y="916">OF VALOIS</tspan><tspan x="1112" y="932">1401 - 1437</tspan><tspan x="1107" y="978">(M. OWEN TUDOR</tspan><tspan x="1105" y="993">IN 1428)</tspan></text></g>
<g id="reignier"><rect class="pr" x="1007" y="859.5" width="12" height="13"/><text class="pt" x="1013" y="869.5">6</text><text class="t"><tspan x="1007" y="888">REIGNIER</tspan><tspan x="1007" y="900">RENÉ</tspan><tspan x="1007" y="915">OF ANJOU</tspan><tspan x="1005" y="931">KING OF</tspan><tspan x="1006" y="946">NAPLES</tspan><tspan x="1006" y="962">1409 - 1480</tspan></text></g>
<g id="margaret_anjou"><rect class="pr" x="970" y="1005.5" width="12" height="13"/><text class="pt" x="976" y="1015.5">6</text><rect class="pr" x="989" y="1005.5" width="12" height="13"/><text class="pt" x="995" y="1015.5">7</text><rect class="pr" x="1012" y="1005.5" width="12" height="13"/><text class="pt" x="1018" y="1015.5">8</text><rect class="pr" x="1030" y="1005.5" width="12" height="13"/><text class="pt" x="1036" y="1015.5">9</text><text class="t"><tspan x="1003" y="1032">MARGARET</tspan><tspan x="1002" y="1047">OF ANJOU</tspan><tspan x="1006" y="1062">1430-1482</tspan></text></g>
<g id="henry6"><circle class="cr" cx="1193" cy="1004" r="7.5"/><text class="ct" x="1193" y="1007.5">11</text><circle class="cr" cx="1215" cy="1004" r="7.5"/><text class="ct" x="1215" y="1007.5">13</text><rect class="pr" x="1236" y="997.5" width="12" height="13"/><text class="pt" x="1242" y="1007.5">6</text><rect class="pr" x="1253" y="997.5" width="12" height="13"/><text class="pt" x="1259" y="1007.5">7</text><rect class="pr" x="1271" y="997.5" width="12" height="13"/><text class="pt" x="1277" y="1007.5">8</text><rect class="mb" x="1213" y="1016" width="109" height="23"/><text class="mt" x="1268" y="1033.5">HENRY VI</text><text class="t"><tspan x="1270" y="1055">OF WINDSOR</tspan><tspan x="1269" y="1070">1421 - 1471</tspan><tspan x="1259" y="1086">K: 1422 - 1461</tspan><tspan x="1259" y="1102">K: 1470 - 1471</tspan></text></g>
<g id="thomas_clarence"><rect class="pr" x="1363" y="870.5" width="12" height="13"/><text class="pt" x="1369" y="880.5">4</text><text class="t"><tspan x="1361" y="900">THOMAS</tspan><tspan x="1354" y="916">1388? - 1421</tspan><tspan x="1359" y="930">DUKE OF</tspan><tspan x="1359" y="946">CLARENCE</tspan></text></g>
<g id="john_bedford"><rect class="pr" x="1428" y="870.5" width="12" height="13"/><text class="pt" x="1434" y="880.5">3</text><rect class="pr" x="1445" y="870.5" width="12" height="13"/><text class="pt" x="1451" y="880.5">4</text><rect class="pr" x="1474" y="870.5" width="12" height="13"/><text class="pt" x="1480" y="880.5">5</text><rect class="pr" x="1492" y="870.5" width="12" height="13"/><text class="pt" x="1498" y="880.5">6</text><text class="t"><tspan x="1468" y="899">JOHN</tspan><tspan x="1466" y="915">1389 - 1435</tspan><tspan x="1466" y="930">DUKE OF</tspan><tspan x="1466" y="945">BEDFORD</tspan><tspan x="1467" y="960">REGENT</tspan><tspan x="1467" y="976">OF FRANCE</tspan></text></g>
<g id="humphrey_gloucester"><rect class="pr" x="1537" y="869.5" width="12" height="13"/><text class="pt" x="1543" y="879.5">4</text><rect class="pr" x="1555" y="869.5" width="12" height="13"/><text class="pt" x="1561" y="879.5">5</text><rect class="pr" x="1582" y="869.5" width="12" height="13"/><text class="pt" x="1588" y="879.5">6</text><rect class="pr" x="1600" y="869.5" width="12" height="13"/><text class="pt" x="1606" y="879.5">7</text><text class="t"><tspan x="1575" y="898">HUMPHREY</tspan><tspan x="1575" y="913">1391 - 1447</tspan><tspan x="1573" y="929">DUKE OF</tspan><tspan x="1576" y="944">GLOUCESTER</tspan><tspan x="1576" y="960">PROTECTOR</tspan><tspan x="1576" y="975">OF THE REALM</tspan></text></g>
<g id="eleanor_cobham"><rect class="pr" x="1695" y="868.5" width="12" height="13"/><text class="pt" x="1701" y="878.5">7</text><text class="t"><tspan x="1687" y="897">ELEANOR</tspan><tspan x="1688" y="912">COBHAM</tspan><tspan x="1702" y="928">D. 1454</tspan></text></g>
<g id="richard_beauchamp"><rect class="pr" x="1769" y="869.5" width="12" height="13"/><text class="pt" x="1775" y="879.5">4</text><rect class="pr" x="1787" y="869.5" width="12" height="13"/><text class="pt" x="1793" y="879.5">5</text><rect class="pr" x="1805" y="869.5" width="12" height="13"/><text class="pt" x="1811" y="879.5">6</text><text class="t"><tspan x="1794" y="898">RICHARD</tspan><tspan x="1793" y="913">BEAUCHAMP</tspan><tspan x="1793" y="928">EARL OF</tspan><tspan x="1793" y="944">WARWICK</tspan><tspan x="1793" y="959">1382 - 1439</tspan></text></g>
<g id="richard_neville"><rect class="pr" x="1588" y="1017.5" width="12" height="13"/><text class="pt" x="1594" y="1027.5">7</text><rect class="pr" x="1607" y="1017.5" width="12" height="13"/><text class="pt" x="1613" y="1027.5">8</text><text class="t"><tspan x="1576" y="1045">RICHARD NEVILLE</tspan><tspan x="1577" y="1061">EARL OF WARWICK</tspan><tspan x="1573" y="1076">1428-1471</tspan><tspan x="1576" y="1092">"KINGMAKER"</tspan></text></g>
<g id="anne_beauchamp"><text class="t"><tspan x="1793" y="1045">ANNE</tspan><tspan x="1793" y="1060">DE BEAUCHAMP</tspan><tspan x="1792" y="1079">D. c.1490</tspan></text></g>
<g id="edward_prince_wales"><rect class="pr" x="1159" y="1128.5" width="12" height="13"/><text class="pt" x="1165" y="1138.5">8</text><text class="t"><tspan x="1150" y="1157">EDWARD</tspan><tspan x="1153" y="1172">PRINCE OF WALES</tspan><tspan x="1150" y="1188">1453 - 1471</tspan><tspan x="1150" y="1203">PLANTAGENET</tspan></text></g>
<g id="lady_anne_neville"><rect class="pr" x="1691" y="1124.5" width="12" height="13"/><text class="pt" x="1697" y="1134.5">9</text><text class="t"><tspan x="1686" y="1153">LADY ANNE</tspan><tspan x="1683" y="1168">NEVILLE</tspan><tspan x="1678" y="1184">c.1456 - 1485</tspan><tspan x="1685" y="1200">(M. RICHARD III IN 1474)</tspan></text></g>
<g id="wars"><text class="t"><tspan x="1111" y="1387">HUNDRED YEARS WAR - 1337-1453</tspan><tspan x="1111" y="1404">BETWEEN ENGLAND AND FRANCE</tspan><tspan x="1114" y="1449">WAR OF THE ROSES - 1455-1485</tspan><tspan x="1114" y="1465">BETWEEN HOUSE OF YORK (WHITE ROSE)</tspan><tspan x="1112" y="1480">AND HOUSE OF LANCASTER (RED ROSE)</tspan></text></g>

<g id="john_beaufort_1"><text class="t"><tspan x="2257" y="755">JOHN</tspan><tspan x="2257" y="770">BEAUFORT</tspan><tspan x="2251" y="786">c.1371 - 1410</tspan><tspan x="2254" y="801">EARL OF</tspan><tspan x="2257" y="817">SOMERSET</tspan></text></g>
<g id="henry_beaufort"><rect class="pr" x="2345" y="728.5" width="12" height="13"/><text class="pt" x="2351" y="738.5">6</text><rect class="pr" x="2374" y="728.5" width="12" height="13"/><text class="pt" x="2380" y="738.5">7</text><text class="t"><tspan x="2366" y="755">HENRY</tspan><tspan x="2364" y="770">BEAUFORT</tspan><tspan x="2364" y="786">c.1374 - 1447</tspan><tspan x="2364" y="801">BISHOP OF</tspan><tspan x="2364" y="817">WINCHESTER</tspan><tspan x="2364" y="832">&amp; CARDINAL</tspan></text></g>
<g id="thomas_beaufort"><rect class="pr" x="2453" y="728.5" width="12" height="13"/><text class="pt" x="2459" y="738.5">5</text><rect class="pr" x="2480" y="728.5" width="12" height="13"/><text class="pt" x="2486" y="738.5">6</text><text class="t"><tspan x="2474" y="756">THOMAS</tspan><tspan x="2474" y="771">BEAUFORT</tspan><tspan x="2474" y="786">c.1375 - 1426</tspan><tspan x="2474" y="802">DUKE OF</tspan><tspan x="2474" y="818">EXETER</tspan></text></g>
<g id="john_beaufort_2"><rect class="pr" x="2168" y="867.5" width="12" height="13"/><text class="pt" x="2174" y="877.5">6</text><text class="t"><tspan x="2165" y="894">JOHN</tspan><tspan x="2165" y="910">BEAUFORT</tspan><tspan x="2165" y="925">c.1404 - 1444</tspan><tspan x="2165" y="941">1 ST DUKE OF</tspan><tspan x="2165" y="957">SOMERSET</tspan></text></g>
<g id="edmund_beaufort_2"><rect class="pr" x="2331" y="867.5" width="12" height="13"/><text class="pt" x="2337" y="877.5">7</text><text class="t"><tspan x="2325" y="894">EDMUND</tspan><tspan x="2325" y="910">BEAUFORT</tspan><tspan x="2325" y="925">c.1406 - 1455</tspan><tspan x="2325" y="941">2 ND DUKE OF</tspan><tspan x="2325" y="957">SOMERSET</tspan></text></g>
<g id="joan_beaufort"><text class="t"><tspan x="2445" y="895">JOAN</tspan><tspan x="2442" y="910">BEAUFORT</tspan><tspan x="2456" y="926">D.1445</tspan></text></g>
<g id="james1"><text class="t"><tspan x="2588" y="880">KING</tspan><tspan x="2588" y="896">JAMES I</tspan><tspan x="2588" y="912">OF SCOTLAND</tspan><tspan x="2588" y="927">1394 - 1437</tspan><tspan x="2581" y="943">K:1424 - 1437</tspan></text></g>
<g id="james2"><text class="t"><tspan x="2564" y="1013">KING</tspan><tspan x="2564" y="1028">JAMES II</tspan><tspan x="2567" y="1044">OF SCOTLAND</tspan><tspan x="2564" y="1059">1430 - 1460</tspan><tspan x="2558" y="1074">K:1437 - 1460</tspan></text></g>
<g id="james3"><text class="t"><tspan x="2566" y="1137">KING JAMES III OF SCOTLAND</tspan><tspan x="2566" y="1151">1451 - 1488</tspan><tspan x="2558" y="1166">K:1460 - 1488</tspan></text></g>
<g id="katherine_valois_2"><rect class="pr" x="1937" y="867.5" width="12" height="13"/><text class="pt" x="1943" y="877.5">5</text><text class="t"><tspan x="1941" y="894">KATHERINE</tspan><tspan x="1938" y="910">OF VALOIS</tspan><tspan x="1938" y="926">1401 - 1437</tspan></text></g>
<g id="owen_tudor"><text class="t"><tspan x="2054" y="894">OWEN</tspan><tspan x="2054" y="910">TUDOR</tspan><tspan x="2052" y="926">c.1400 - 1461</tspan></text></g>
<g id="edmund_tudor"><text class="t"><tspan x="1991" y="1029">EDMUND</tspan><tspan x="1990" y="1045">TUDOR</tspan><tspan x="1986" y="1061">c.1430 - 1456</tspan><tspan x="1987" y="1076">EARL OF</tspan><tspan x="1990" y="1092">RICHMOND</tspan></text></g>
<g id="margaret_beaufort"><text class="t"><tspan x="2162" y="1029">MARGARET</tspan><tspan x="2162" y="1045">BEAUFORT</tspan><tspan x="2162" y="1061">1443 - 1509</tspan><tspan x="2160" y="1076">COUNTESS OF</tspan><tspan x="2162" y="1092">RICHMOND</tspan></text></g>
<g id="henry_beaufort_3"><text class="t"><tspan x="2273" y="1028">HENRY</tspan><tspan x="2273" y="1043">BEAUFORT</tspan><tspan x="2271" y="1059">1436 - 1464</tspan><tspan x="2274" y="1074">3RD DUKE OF</tspan><tspan x="2268" y="1091">SOMERSET</tspan></text></g>
<g id="edmund_beaufort_4"><rect class="pr" x="2385" y="999.5" width="12" height="13"/><text class="pt" x="2391" y="1009.5">8</text><text class="t"><tspan x="2379" y="1028">EDMUND</tspan><tspan x="2379" y="1043">BEAUFORT</tspan><tspan x="2377" y="1059">c.1439 - 1471</tspan><tspan x="2379" y="1074">4 TH DUKE OF</tspan><tspan x="2377" y="1090">SOMERSET</tspan></text></g>
<g id="henry7"><rect class="pr" x="2292" y="1119.5" width="12" height="13"/><text class="pt" x="2298" y="1129.5">8</text><rect class="pr" x="2318" y="1119.5" width="12" height="13"/><text class="pt" x="2324" y="1129.5">9</text><circle class="cr" cx="2264" cy="1137" r="7.5"/><text class="ct" x="2264" y="1140.5">17</text><text class="t"><tspan x="2312" y="1147">HENRY TUDOR</tspan><tspan x="2315" y="1161">EARL OF RICHMOND</tspan></text><rect class="mb" x="2263" y="1167" width="100" height="21"/><text class="mt" x="2313" y="1183.5">HENRY VII</text><text class="t"><tspan x="2312" y="1200">1457 - 1509</tspan><tspan x="2305" y="1216">K:1485 - 1509</tspan></text></g>
<g id="ferdinand"><text class="t"><tspan x="1995" y="1185">FERDINAND V</tspan><tspan x="1992" y="1201">OF SPAIN</tspan><tspan x="1990" y="1216">1452 - 1516</tspan></text></g>
<g id="isabella_spain"><text class="t"><tspan x="2146" y="1185">ISABELLA I</tspan><tspan x="2146" y="1201">OF SPAIN</tspan><tspan x="2146" y="1216">1451 - 1504</tspan></text></g>
<g id="katharine_aragon"><rect class="pr" x="2051" y="1289.5" width="14" height="13"/><text class="pt" x="2058" y="1299.5">10</text><text class="t"><tspan x="2066" y="1316">KATHARINE</tspan><tspan x="2066" y="1332">OF ARAGON</tspan><tspan x="2067" y="1347">1485 - 1536</tspan><tspan x="2061" y="1362">Q:1509 - 1533</tspan></text></g>
<g id="arthur"><text class="t"><tspan x="1937" y="1317">ARTHUR</tspan><tspan x="1935" y="1333">PRINCE</tspan><tspan x="1937" y="1349">OF WALES</tspan><tspan x="1935" y="1364">1486 - 1502</tspan></text></g>
<g id="anne_boleyn"><rect class="pr" x="2153" y="1305.5" width="14" height="13"/><text class="pt" x="2160" y="1315.5">10</text><text class="t"><tspan x="2186" y="1316">ANNE</tspan><tspan x="2185" y="1333">BOLEYN</tspan><tspan x="2184" y="1348">1507 - 1536</tspan><tspan x="2179" y="1363">Q:1533 - 1536</tspan></text></g>
<g id="henry8"><rect class="pr" x="2318" y="1252.5" width="14" height="13"/><text class="pt" x="2325" y="1262.5">10</text><circle class="cr" cx="2261" cy="1272" r="7.5"/><text class="ct" x="2261" y="1275.5">18</text><text class="t"><tspan x="2312" y="1278">HENRY TUDOR</tspan><tspan x="2318" y="1294">EARL OF RICHMOND</tspan></text><rect class="mb" x="2262" y="1301" width="102" height="21"/><text class="mt" x="2313" y="1317.5">HENRY VIII</text><text class="t"><tspan x="2312" y="1340">1491 - 1547</tspan><tspan x="2305" y="1355">K:1509 - 1547</tspan></text></g>
<g id="jane_seymour"><text class="t"><tspan x="2443" y="1316">JANE</tspan><tspan x="2443" y="1332">SEYMOUR</tspan><tspan x="2439" y="1347">1509? - 1537</tspan><tspan x="2436" y="1362">Q:1536 - 1537</tspan></text></g>
<g id="mary_tudor"><circle class="cr" cx="2017" cy="1403" r="7.5"/><text class="ct" x="2017" y="1406.5">20</text><rect class="mb" x="2029" y="1408" width="124" height="36"/><text class="mt" x="2091" y="1425" font-size="17">MARY TUDOR</text><text class="sm" x="2091" y="1439">QUEEN MARY I</text><text class="t"><tspan x="2088" y="1463">1516 - 1558</tspan><tspan x="2083" y="1477">Q:1553 - 1558</tspan><tspan x="2089" y="1494">"BLOODY MARY"</tspan></text></g>
<g id="philip2"><text class="t"><tspan x="1939" y="1426">PHILIP II</tspan><tspan x="1937" y="1441">OF SPAIN</tspan><tspan x="1938" y="1457">1527 - 1598</tspan></text></g>
<g id="elizabeth1"><circle class="cr" cx="2174" cy="1403" r="7.5"/><text class="ct" x="2174" y="1406.5">21</text><rect class="pr" x="2251" y="1392.5" width="14" height="13"/><text class="pt" x="2258" y="1402.5">10</text><rect class="mb" x="2185" y="1410" width="121" height="22"/><text class="mt" x="2246" y="1427">ELIZABETH I</text><text class="t"><tspan x="2247" y="1448">1533 - 1603</tspan><tspan x="2239" y="1464">Q:1558 - 1603</tspan></text></g>
<g id="edward6"><circle class="cr" cx="2331" cy="1403" r="7.5"/><text class="ct" x="2331" y="1406.5">19</text><rect class="mb" x="2339" y="1408" width="101" height="23"/><text class="mt" x="2390" y="1425.5">EDWARD VI</text><text class="t"><tspan x="2387" y="1448">1537 - 1553</tspan><tspan x="2380" y="1463">K:1547 - 1553</tspan></text></g>
<g id="james4"><text class="t"><tspan x="2565" y="1301">KING</tspan><tspan x="2564" y="1316">JAMES IV</tspan><tspan x="2565" y="1331">OF SCOTLAND</tspan><tspan x="2564" y="1347">1473 - 1513</tspan><tspan x="2557" y="1362">K:1488 - 1513</tspan></text></g>
<g id="margaret_tudor"><text class="t"><tspan x="3048" y="1318">MARGARET</tspan><tspan x="3048" y="1332">TUDOR</tspan><tspan x="3046" y="1349">1489 - 1541</tspan></text></g>
<g id="archibald_douglas"><text class="t"><tspan x="3234" y="1317">ARCHIBALD</tspan><tspan x="3232" y="1332">DOUGLAS</tspan><tspan x="3234" y="1347">1489? - 1557</tspan><tspan x="3234" y="1362">EARL OF ANGUS</tspan></text></g>
<g id="james5"><text class="t"><tspan x="2964" y="1403">KING</tspan><tspan x="2964" y="1418">JAMES V</tspan><tspan x="2964" y="1434">OF SCOTLAND</tspan><tspan x="2963" y="1449">1512 - 1542</tspan><tspan x="2957" y="1464">K:1513 - 1542</tspan></text></g>
<g id="mary_guise"><text class="t"><tspan x="2816" y="1419">MARY</tspan><tspan x="2812" y="1434">OF GUISE</tspan><tspan x="2816" y="1449">1515 - 1560</tspan><tspan x="2810" y="1465">Q:1538 - 1542</tspan></text></g>
<g id="margaret_douglas"><text class="t"><tspan x="3109" y="1403">LADY</tspan><tspan x="3109" y="1417">MARGARET</tspan><tspan x="3109" y="1433">DOUGLAS</tspan><tspan x="3109" y="1448">1515 - 1578</tspan></text></g>
<g id="matthew_stuart"><text class="t"><tspan x="3263" y="1417">MATTHEW STUART</tspan><tspan x="3266" y="1432">EARL OF LENNOX</tspan><tspan x="3264" y="1447">1516 - 1571</tspan></text></g>
<g id="mary_stuart"><text class="t"><tspan x="2883" y="1496">MARY STUART</tspan><tspan x="2885" y="1512">QUEEN OF SCOTS</tspan><tspan x="2882" y="1527">1542 - 1587</tspan><tspan x="2961" y="1527">Q: 1542 - 1567</tspan></text></g>
<g id="henry_stuart"><text class="t"><tspan x="3188" y="1494">HENRY STUART</tspan><tspan x="3188" y="1509">LORD DARNLEY</tspan><tspan x="3185" y="1525">1545 - 1567</tspan></text></g>
<g id="james6"><circle class="cr" cx="2928" cy="1548" r="7.5"/><text class="ct" x="2928" y="1551.5">22</text><rect class="mb" x="2940" y="1545" width="215" height="37"/><text class="mt" x="3048" y="1561">JAMES VI OF SCOTLAND</text><text class="mt" x="3045" y="1578">JAMES I OF ENGLAND</text><text class="t" x="3048" y="1594">1566 - 1625</text><text class="t"><tspan x="2841" y="1563">K. OF SCOTLAND: 1567 - 1625</tspan><tspan x="2841" y="1579">K. OF ENGLAND : 1603 - 1625</tspan></text></g>
<g id="anne_denmark"><text class="t"><tspan x="3293" y="1566">ANNE OF DENMARK</tspan><tspan x="3298" y="1581">1574 - 1617</tspan></text></g>

<g id="isabel_castile"><text class="t"><tspan x="2809" y="577">ISABEL</tspan><tspan x="2808" y="592">OF CASTILE</tspan><tspan x="2824" y="609">D.1392</tspan><tspan x="2809" y="625">DUCHESS</tspan><tspan x="2808" y="640">OF YORK</tspan></text></g>
<g id="edmund_langley"><rect class="pr" x="2977" y="549.5" width="12" height="13"/><text class="pt" x="2983" y="559.5">2</text><text class="t"><tspan x="2966" y="577">EDMUND</tspan><tspan x="2967" y="593">OF LANGLEY</tspan><tspan x="2966" y="610">1341 - 1402</tspan><tspan x="2966" y="626">1 ST DUKE</tspan><tspan x="2966" y="640">OF YORK</tspan></text></g>
<g id="joan_holland"><rect class="pr" x="3108" y="549.5" width="12" height="13"/><text class="pt" x="3114" y="559.5">2</text><text class="t"><tspan x="3115" y="578">JOAN</tspan><tspan x="3114" y="594">HOLLAND</tspan><tspan x="3119" y="610">D.1434</tspan><tspan x="3114" y="627">DUCHESS</tspan><tspan x="3114" y="641">OF YORK</tspan></text></g>
<g id="thomas_woodstock"><text class="t"><tspan x="3275" y="578">THOMAS</tspan><tspan x="3274" y="595">OF WOODSTOCK</tspan><tspan x="3273" y="610">1355 - 1397</tspan><tspan x="3273" y="627">DUKE OF</tspan><tspan x="3275" y="642">GLOUCESTER</tspan></text></g>
<g id="eleanor_de_bohun"><rect class="pr" x="3418" y="554.5" width="12" height="13"/><text class="pt" x="3424" y="564.5">2</text><text class="t"><tspan x="3424" y="579">ELEANOR</tspan><tspan x="3424" y="595">DE BOHUN</tspan><tspan x="3421" y="611">c.1362-1399</tspan><tspan x="3422" y="628">DUCHESS OF</tspan><tspan x="3422" y="643">GLOUCESTER</tspan></text></g>
<g id="edward_norwich"><rect class="pr" x="2840" y="727.5" width="12" height="13"/><text class="pt" x="2846" y="737.5">2</text><rect class="pr" x="2868" y="727.5" width="12" height="13"/><text class="pt" x="2874" y="737.5">5</text><text class="t"><tspan x="2863" y="757">EDWARD OF NOIRWICH</tspan><tspan x="2848" y="773">c.1373 - 1415</tspan><tspan x="2862" y="788">DUKE OF AUMIERLE</tspan><tspan x="2862" y="804">2 ND DUKE OF YORK</tspan></text></g>
<g id="richard_cambridge_y"><rect class="pr" x="3126" y="727.5" width="12" height="13"/><text class="pt" x="3132" y="737.5">5</text><text class="t"><tspan x="3122" y="758">RICHARD</tspan><tspan x="3115" y="774">c.1375 - 1415</tspan><tspan x="3119" y="789">EARL OF</tspan><tspan x="3118" y="804">CAMBRIDGE</tspan></text></g>
<g id="anne_mortimer_y"><text class="t"><tspan x="3237" y="759">ANNE</tspan><tspan x="3237" y="774">MORTIMER</tspan><tspan x="3239" y="790">1388 - c.1412</tspan></text></g>
<g id="ralph_neville"><rect class="pr" x="3363" y="729.5" width="12" height="13"/><text class="pt" x="3369" y="739.5">3</text><rect class="pr" x="3383" y="729.5" width="12" height="13"/><text class="pt" x="3389" y="739.5">4</text><rect class="pr" x="3403" y="729.5" width="12" height="13"/><text class="pt" x="3409" y="739.5">5</text><text class="t"><tspan x="3389" y="759">RALPH NEVILLE</tspan><tspan x="3389" y="774">1364 - 1425</tspan><tspan x="3389" y="789">1 ST EARL OF</tspan><tspan x="3389" y="804">WESTMORLAND</tspan></text></g>
<g id="richard_plantagenet"><rect class="pr" x="3156" y="868.5" width="12" height="13"/><text class="pt" x="3162" y="878.5">6</text><rect class="pr" x="3176" y="868.5" width="12" height="13"/><text class="pt" x="3182" y="878.5">7</text><rect class="pr" x="3197" y="868.5" width="12" height="13"/><text class="pt" x="3203" y="878.5">8</text><text class="t"><tspan x="3174" y="897">RICHARD</tspan><tspan x="3174" y="913">PLANTAGENET</tspan><tspan x="3174" y="928">1411 - 1460</tspan><tspan x="3177" y="943">3 RD DUKE OF YORK</tspan></text></g>
<g id="cicely_neville"><rect class="pr" x="3396" y="868.5" width="12" height="13"/><text class="pt" x="3402" y="878.5">9</text><text class="t"><tspan x="3392" y="897">CICELY NEVILLE</tspan><tspan x="3389" y="914">1415 - 1495</tspan><tspan x="3390" y="929">DUCHESS</tspan><tspan x="3390" y="944">OF YORK</tspan></text></g>
<g id="richard_woodville"><text class="t"><tspan x="2821" y="896">RICHARD</tspan><tspan x="2819" y="912">WOODVILLE</tspan><tspan x="2832" y="928">D.1469</tspan><tspan x="2819" y="943">1 ST EARL</tspan><tspan x="2818" y="959">RIVERS</tspan></text></g>
<g id="anthony_woodville"><rect class="pr" x="2745" y="999.5" width="12" height="13"/><text class="pt" x="2751" y="1009.5">8</text><rect class="pr" x="2772" y="999.5" width="12" height="13"/><text class="pt" x="2778" y="1009.5">9</text><text class="t"><tspan x="2765" y="1028">ANTHONY</tspan><tspan x="2763" y="1044">WOODVILLE</tspan><tspan x="2758" y="1059">c.1440 - 1483</tspan><tspan x="2761" y="1075">2 ND EARL</tspan><tspan x="2763" y="1091">RIVERS</tspan></text></g>
<g id="elizabeth_woodville"><rect class="pr" x="2842" y="1000.5" width="12" height="13"/><text class="pt" x="2848" y="1010.5">8</text><rect class="pr" x="2869" y="1000.5" width="12" height="13"/><text class="pt" x="2875" y="1010.5">9</text><text class="t"><tspan x="2861" y="1029">ELIZABETH</tspan><tspan x="2861" y="1045">WOODVILLE</tspan><tspan x="2860" y="1061">? 1437 - 1492</tspan><tspan x="2861" y="1077">"LADY GREY"</tspan></text></g>
<g id="edward4"><circle class="cr" cx="2933" cy="995" r="7.5"/><text class="ct" x="2933" y="998.5">12</text><circle class="cr" cx="2954" cy="995" r="7.5"/><text class="ct" x="2954" y="998.5">14</text><rect class="pr" x="2994" y="988.5" width="12" height="13"/><text class="pt" x="3000" y="998.5">7</text><rect class="pr" x="3012" y="988.5" width="12" height="13"/><text class="pt" x="3018" y="998.5">8</text><rect class="pr" x="3029" y="988.5" width="12" height="13"/><text class="pt" x="3035" y="998.5">9</text><rect class="mb" x="2943" y="1007" width="100" height="24"/><text class="mt" x="2993" y="1025.5">EDWARD IV</text><text class="t"><tspan x="2987" y="1045">1442 - 1483</tspan><tspan x="2980" y="1061">K:1461 - 1470</tspan><tspan x="2980" y="1077">K:1471 - 1483</tspan><tspan x="2984" y="1092">EARL OF MARCH</tspan></text></g>
<g id="edmund_rutland"><rect class="pr" x="3115" y="989.5" width="12" height="13"/><text class="pt" x="3121" y="999.5">8</text><text class="t"><tspan x="3108" y="1030">EDMUND</tspan><tspan x="3108" y="1046">1443 - 1460</tspan><tspan x="3106" y="1062">EARL OF</tspan><tspan x="3108" y="1077">RUTLAND</tspan></text></g>
<g id="george_clarence"><rect class="pr" x="3186" y="989.5" width="12" height="13"/><text class="pt" x="3192" y="999.5">8</text><rect class="pr" x="3207" y="989.5" width="12" height="13"/><text class="pt" x="3213" y="999.5">9</text><text class="t"><tspan x="3204" y="1030">GEORGE</tspan><tspan x="3204" y="1046">1449 - 1478</tspan><tspan x="3204" y="1062">DUKE OF</tspan><tspan x="3204" y="1077">CLARENCE</tspan></text></g>
<g id="richard3"><circle class="cr" cx="3261" cy="998" r="7.5"/><text class="ct" x="3261" y="1001.5">16</text><rect class="pr" x="3295" y="989.5" width="12" height="13"/><text class="pt" x="3301" y="999.5">7</text><rect class="pr" x="3317" y="989.5" width="12" height="13"/><text class="pt" x="3323" y="999.5">8</text><rect class="pr" x="3337" y="989.5" width="12" height="13"/><text class="pt" x="3343" y="999.5">9</text><rect class="mb" x="3265" y="1012" width="103" height="22"/><text class="mt" x="3316" y="1029">RICHARD III</text><text class="t"><tspan x="3310" y="1045">1452 - 1485</tspan><tspan x="3305" y="1061">K:1483 - 1485</tspan><tspan x="3310" y="1077">DUKE OF</tspan><tspan x="3310" y="1092">GLOUCESTER</tspan></text></g>
<g id="lady_anne_neville_y"><rect class="pr" x="3429" y="989.5" width="12" height="13"/><text class="pt" x="3435" y="999.5">9</text><text class="t"><tspan x="3435" y="1017">LADY</tspan><tspan x="3435" y="1030">ANNE</tspan><tspan x="3434" y="1046">NEVILLE</tspan><tspan x="3434" y="1061">c.1456-1485</tspan></text></g>
<g id="elizabeth_york"><text class="t"><tspan x="2791" y="1184">ELIZABETH</tspan><tspan x="2789" y="1200">OF YORK</tspan><tspan x="2789" y="1215">1465 - 1503</tspan></text></g>
<g id="edward5"><rect class="pr" x="2933" y="1130.5" width="12" height="13"/><text class="pt" x="2939" y="1140.5">9</text><circle class="cr" cx="2864" cy="1161" r="7.5"/><text class="ct" x="2864" y="1164.5">15</text><text class="t" x="2927" y="1160">PRINCE OF WALES</text><rect class="mb" x="2877" y="1166" width="105" height="22"/><text class="mt" x="2929" y="1183">EDWARD V</text><text class="t"><tspan x="2925" y="1201">1470 - 1483</tspan><tspan x="2924" y="1216">K:1483</tspan></text></g>
<g id="richard_york"><rect class="pr" x="3047" y="1145.5" width="12" height="13"/><text class="pt" x="3053" y="1155.5">9</text><text class="t"><tspan x="3043" y="1185">RICHARD</tspan><tspan x="3043" y="1201">1472 - 1483</tspan><tspan x="3040" y="1216">DUKE OF</tspan><tspan x="3040" y="1232">YORK</tspan></text></g>
<g id="edward_warwick"><rect class="pr" x="3163" y="1145.5" width="12" height="13"/><text class="pt" x="3169" y="1155.5">9</text><text class="t"><tspan x="3157" y="1185">EDWARD</tspan><tspan x="3153" y="1201">c.1475 - 1499</tspan><tspan x="3154" y="1216">EARL OF</tspan><tspan x="3153" y="1232">WARWICK</tspan></text></g>
<g id="margaret_plantagenet"><rect class="pr" x="3349" y="1144.5" width="12" height="13"/><text class="pt" x="3355" y="1154.5">9</text><text class="t"><tspan x="3343" y="1171">LADY</tspan><tspan x="3343" y="1185">MARGARET</tspan><tspan x="3344" y="1200">PLANTAGENET</tspan><tspan x="3341" y="1216">1473 - 1541</tspan><tspan x="3341" y="1231">COUNTESS OF</tspan><tspan x="3344" y="1247">SALISBURY</tspan></text></g>

<g id="english_kings_table">
<text class="t" x="264" y="1179">ENGLISH KINGS AND HISTORY PLAYS</text>
<path class="l" stroke-width="2" d="M164,1184H369 M125,1231H175 M217,1231H276 M307,1231H353 M390,1231H439"/>
<text class="sm"><tspan x="148" y="1213">HISTORY</tspan><tspan x="148" y="1226">PLAY</tspan><tspan x="247" y="1226">BORN- DIED</tspan><tspan x="330" y="1226">REIGNED</tspan><tspan x="413" y="1200">PERIOD</tspan><tspan x="414" y="1213">COVERED</tspan><tspan x="414" y="1226">IN PLAYS</tspan></text>
<g>
<rect class="pr" x="86" y="1238" width="12" height="14"/><text class="pt" x="92" y="1249">1</text>
<rect class="pr" x="86" y="1260" width="12" height="14"/><text class="pt" x="92" y="1271">2</text>
<rect class="pr" x="86" y="1283" width="12" height="14"/><text class="pt" x="92" y="1294">3</text>
<rect class="pr" x="86" y="1305" width="12" height="14"/><text class="pt" x="92" y="1316">4</text>
<rect class="pr" x="86" y="1329" width="12" height="14"/><text class="pt" x="92" y="1340">5</text>
<rect class="pr" x="86" y="1355" width="12" height="14"/><text class="pt" x="92" y="1366">6</text>
<rect class="pr" x="86" y="1383" width="12" height="14"/><text class="pt" x="92" y="1394">7</text>
<rect class="pr" x="86" y="1410" width="12" height="14"/><text class="pt" x="92" y="1421">8</text>
<rect class="pr" x="86" y="1488" width="12" height="14"/><text class="pt" x="92" y="1499">9</text>
<rect class="pr" x="85" y="1526" width="14" height="14"/><text class="pt" x="92" y="1537">10</text>
</g>
<text class="s"><tspan x="115" y="1249">KING JOHN</tspan><tspan x="115" y="1271">RICHARD II</tspan><tspan x="115" y="1294">1 HENRY IV</tspan><tspan x="115" y="1316">2 HENRY IV</tspan><tspan x="115" y="1340">HENRY V</tspan><tspan x="115" y="1366">1 HENRY VI</tspan><tspan x="115" y="1394">2 HENRY VI</tspan><tspan x="115" y="1421">3 HENRY VI</tspan><tspan x="115" y="1444">(EDWARD IV)</tspan><tspan x="115" y="1475">(EDWARD V)</tspan><tspan x="115" y="1499">RICHARD III</tspan><tspan x="115" y="1518">(HENRY VII)</tspan><tspan x="115" y="1537">HENRY VIII</tspan></text>
<text class="t"><tspan x="246" y="1249">1167 - 1216</tspan><tspan x="246" y="1271">1367 - 1400</tspan><tspan x="246" y="1294">1367 - 1413</tspan><tspan x="246" y="1316">1367 - 1413</tspan><tspan x="246" y="1340">1387 - 1422</tspan><tspan x="246" y="1366">1421 - 1471</tspan><tspan x="246" y="1394">1421 - 1471</tspan><tspan x="246" y="1421">1421 - 1471</tspan><tspan x="246" y="1444">1442 - 1483</tspan><tspan x="246" y="1475">1470 - 1483</tspan><tspan x="246" y="1499">1452 - 1485</tspan><tspan x="246" y="1518">1457 - 1509</tspan><tspan x="246" y="1537">1491 - 1547</tspan></text>
<text class="t"><tspan x="330" y="1249">1199 - 1216</tspan><tspan x="330" y="1271">1377 - 1399</tspan><tspan x="330" y="1294">1399 - 1413</tspan><tspan x="330" y="1316">1399 - 1413</tspan><tspan x="330" y="1340">1413 - 1422</tspan><tspan x="330" y="1360">1422 - 1461</tspan><tspan x="330" y="1372">1470 - 1471</tspan><tspan x="330" y="1388">1422 - 1461</tspan><tspan x="330" y="1400">1470 - 1471</tspan><tspan x="330" y="1416">1422 - 1461</tspan><tspan x="330" y="1429">1470 - 1471</tspan><tspan x="330" y="1445">1461 - 1470</tspan><tspan x="330" y="1457">1471 - 1483</tspan><tspan x="317" y="1475">1483 -</tspan><tspan x="330" y="1499">1483 - 1485</tspan><tspan x="330" y="1518">1485 - 1509</tspan><tspan x="330" y="1537">1509 - 1547</tspan></text>
<text class="t"><tspan x="414" y="1249">1199 - 1216</tspan><tspan x="414" y="1271">1398 - 1400</tspan><tspan x="414" y="1294">1402 - 1403</tspan><tspan x="414" y="1316">1403 - 1413</tspan><tspan x="414" y="1340">1414 - 1420</tspan><tspan x="414" y="1366">1422 - 1453</tspan><tspan x="414" y="1394">1445 - 1455</tspan><tspan x="414" y="1421">1455 - 1471</tspan><tspan x="396" y="1444">—</tspan><tspan x="435" y="1444">—</tspan><tspan x="396" y="1475">—</tspan><tspan x="435" y="1475">—</tspan><tspan x="414" y="1499">1471 - 1485</tspan><tspan x="396" y="1518">—</tspan><tspan x="435" y="1518">—</tspan><tspan x="414" y="1537">1520 - 1533</tspan></text>
</g>

<g id="french_kings_table">
<text class="t" x="761" y="1202">FRENCH KINGS - 1180-1223 AND 1380 - 1643</text>
<path class="l" stroke-width="2" d="M643,1207H881 M738,1230H798 M830,1230H875"/>
<text class="sm"><tspan x="767" y="1225">BORN - DIED</tspan><tspan x="852" y="1225">REIGNED</tspan></text>
<text class="s"><tspan x="637" y="1250">PHILIP II</tspan><tspan x="637" y="1274">CHARLES VI</tspan><tspan x="637" y="1297">CHARLES VII</tspan><tspan x="637" y="1321">LOUIS XI</tspan><tspan x="637" y="1344">CHARLES VIII</tspan><tspan x="637" y="1367">LOUIS XII</tspan><tspan x="637" y="1390">FRANCIS I</tspan><tspan x="637" y="1414">HENRY II</tspan><tspan x="637" y="1437">FRANCIS II</tspan><tspan x="637" y="1460">CHARLES IX</tspan><tspan x="637" y="1483">HENRY III</tspan><tspan x="637" y="1506">HENRY IV</tspan><tspan x="637" y="1529">LOUIS XIII</tspan></text>
<text class="t"><tspan x="768" y="1250">1165 - 1223</tspan><tspan x="768" y="1274">1368 - 1422</tspan><tspan x="768" y="1297">1403 - 1461</tspan><tspan x="768" y="1321">1423 - 1483</tspan><tspan x="768" y="1344">1470 - 1498</tspan><tspan x="768" y="1367">1462 - 1515</tspan><tspan x="768" y="1390">1494 - 1547</tspan><tspan x="768" y="1414">1519 - 1559</tspan><tspan x="768" y="1437">1544 - 1560</tspan><tspan x="768" y="1460">1550 - 1574</tspan><tspan x="768" y="1483">1551 - 1589</tspan><tspan x="768" y="1506">1553 - 1610</tspan><tspan x="768" y="1529">1601 - 1643</tspan></text>
<text class="t"><tspan x="854" y="1250">1180 - 1223</tspan><tspan x="854" y="1274">1380 - 1422</tspan><tspan x="854" y="1297">1422 - 1461</tspan><tspan x="854" y="1321">1461 - 1483</tspan><tspan x="854" y="1344">1483 - 1498</tspan><tspan x="854" y="1367">1498 - 1515</tspan><tspan x="854" y="1390">1515 - 1547</tspan><tspan x="854" y="1414">1547 - 1559</tspan><tspan x="854" y="1437">1559 - 1560</tspan><tspan x="854" y="1460">1560 - 1574</tspan><tspan x="854" y="1483">1574 - 1589</tspan><tspan x="854" y="1506">1589 - 1610</tspan><tspan x="854" y="1529">1610 - 1643</tspan></text>
</g>
</svg>
